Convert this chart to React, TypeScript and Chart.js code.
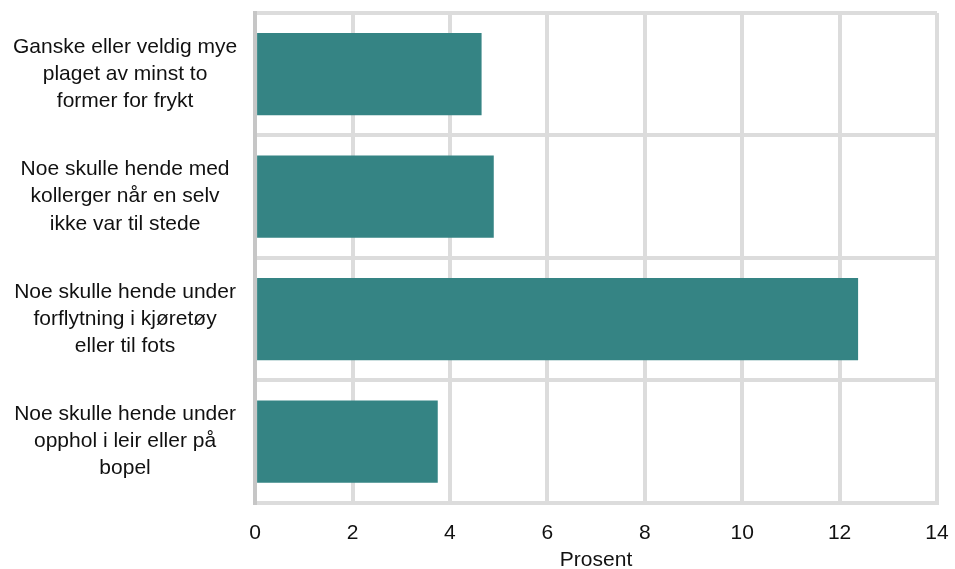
import React, { useEffect, useRef } from "react";
import { Chart, registerables } from "chart.js";

Chart.register(...registerables);

const categories: string[][] = [
  ["Ganske eller veldig mye", "plaget av minst to", "former for frykt"],
  ["Noe skulle hende med", "kollerger når en selv", "ikke var til stede"],
  ["Noe skulle hende under", "forflytning i kjøretøy", "eller til fots"],
  ["Noe skulle hende under", "opphol i leir eller på", "bopel"],
];
const values: number[] = [4.65, 4.9, 12.38, 3.75];
const xTicks: number[] = [0, 2, 4, 6, 8, 10, 12, 14];
const axisTitle = "Prosent";

export default function App() {
  const ref = useRef<HTMLCanvasElement | null>(null);
  useEffect(() => {
    if (!ref.current) return;
    const family = "'Liberation Sans', Arial, sans-serif";
    const chart = new Chart(ref.current, {
      type: "bar",
      data: {
        labels: categories,
        datasets: [
          {
            data: values,
            backgroundColor: "#358484",
            borderWidth: 0,
            categoryPercentage: 0.672,
            barPercentage: 1,
          },
        ],
      },
      options: {
        indexAxis: "y",
        animation: false,
        responsive: false,
        maintainAspectRatio: false,
        layout: { padding: { left: 12, right: 18, top: 13, bottom: 0 } },
        plugins: { legend: { display: false }, tooltip: { enabled: false } },
        scales: {
          x: {
            min: 0,
            max: 14,
            afterBuildTicks: (axis: any) => {
              axis.ticks = xTicks.map((v) => ({ value: v }));
            },
            afterFit: (axis: any) => {
              axis.paddingLeft = 0;
              axis.paddingRight = 0;
              axis.height -= 16;
            },
            grid: { color: "#dcdcdc", lineWidth: 4, drawTicks: false },
            border: { color: "#dcdcdc", width: 4 },
            ticks: { color: "#111", font: { family, size: 21 }, padding: 18 },
            title: {
              display: true,
              text: axisTitle,
              color: "#111",
              font: { family, size: 21, lineHeight: 1 },
              padding: { top: 2, bottom: -2 },
            },
          },
          y: {
            afterFit: (axis: any) => {
              axis.paddingTop = 0;
              axis.paddingBottom = 0;
              axis.width -= 17;
            },
            grid: { color: "#dcdcdc", lineWidth: 4, drawTicks: false, offset: true },
            border: { color: "#c6c6c6", width: 4 },
            ticks: {
              color: "#111",
              font: { family, size: 21, lineHeight: 1.29 },
              padding: 18,
              crossAlign: "center",
            },
          },
        },
      },
    });
    return () => chart.destroy();
  }, []);
  return (
    <div style={{ position: "fixed", left: 0, top: 0, width: 955, height: 569, background: "#fff" }}>
      <canvas ref={ref} width={955} height={569} />
    </div>
  );
}
